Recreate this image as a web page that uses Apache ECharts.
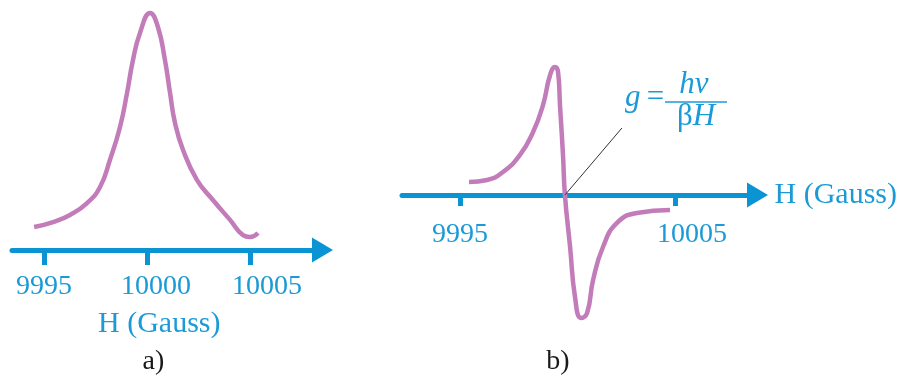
<!DOCTYPE html>
<html><head><meta charset="utf-8">
<script src="https://cdn.jsdelivr.net/npm/echarts@6/dist/echarts.min.js"></script>
<style>html,body{margin:0;padding:0;background:#fff}#c{width:901px;height:379px}</style>
</head><body><div id="c"></div>
<script>
// Panel a) absorption line: field H (Gauss) and intensity (arb. units)
const fieldA = [9994.52, 9995.44, 9996.26, 9997.09, 9997.72, 9998.20, 9998.69, 9999.03, 9999.32, 9999.66, 10000.15, 10000.53, 10000.87, 10001.12, 10001.36, 10001.75, 10002.43, 10003.20, 10004.03, 10004.66, 10005.00, 10005.39];
const intensityA = [9.7, 11.8, 14.8, 19.8, 26.6, 38.0, 51.9, 66.2, 80.2, 91.6, 100, 94.1, 80.2, 66.2, 53.6, 42.2, 29.5, 21.1, 12.7, 6.3, 5.5, 7.2];
// Panel b) first-derivative signal
const fieldB = [9995.42, 9996.26, 9997.00, 9997.79, 9998.40, 9998.86, 9999.19, 9999.42, 9999.56, 9999.65, 9999.79, 9999.88, 10000.12, 10000.35, 10000.63, 10000.91, 10001.19, 10001.65, 10002.30, 10003.23, 10004.77];
const derivB = [10, 11.5, 17.7, 30.8, 48.5, 69.2, 92.3, 98.5, 94.6, 69.2, 30.8, 0, -40, -78.5, -94.6, -90.8, -65.4, -40, -21.5, -13.8, -11.5];
const ticksA = [9995, 10000, 10005];
const ticksB = [9995, 10005];
const axisName = 'H (Gauss)';
const panelLabels = ['a)', 'b)'];
const formulaNum = 'hν';
const formulaDen = ['β', 'H'];
// leader line from zero crossing to the formula
const leaderFrom = [9999.88, 0];
const leaderTo = [10002.53, 51.5];

const BLUE = '#0a94d4';
const TXT = '#1b9ad6';
const CURVE = '#c27cb9';
const SERIF = '"Liberation Serif", "Times New Roman", serif';
const labelShift = {10000: 'm', 10005: 'r'};

function axisCfg(grid, min, max, ticks, tickLen, labelMargin, nameOpt) {
  return Object.assign({
    gridIndex: grid, type: 'value', min: min, max: max,
    splitLine: {show: false},
    axisLine: {show: true, onZero: false, lineStyle: {color: BLUE, width: 5}, symbol: ['none', 'triangle'], symbolSize: [25, 21]},
    axisTick: {show: true, customValues: ticks, length: tickLen, lineStyle: {color: BLUE, width: 5}},
    axisLabel: {
      customValues: ticks, margin: labelMargin, color: TXT, fontFamily: SERIF, fontSize: 28,
      formatter: function (v) { const k = labelShift[v]; return k ? '{' + k + '|' + v + '}' : String(v); },
      rich: {m: {padding: [0, 0, 0, 18]}, r: {padding: [0, 0, 0, 34]}}
    },
    name: axisName,
    nameTextStyle: {color: TXT, fontFamily: SERIF, fontSize: 30}
  }, nameOpt);
}

// grid 1 spans y 65..325; its x axis sits at the zero level (y = 195), 130 px above the grid bottom
const xB = axisCfg(1, 9992.302, 10008.837, ticksB, 11, 26, {nameLocation: 'end', nameGap: 17, offset: -130});

const option = {
  animation: false,
  backgroundColor: '#fff',
  grid: [
    {left: 12, width: 310.5, top: 13, bottom: 129},
    {left: 402, width: 355.5, top: 65, bottom: 54}
  ],
  xAxis: [
    axisCfg(0, 9993.447, 10008.519, ticksA, 15, 23, {nameLocation: 'middle', nameGap: 59, nameTextStyle: {color: TXT, fontFamily: SERIF, fontSize: 30, padding: [0, 16, 0, 0]}}),
    xB
  ],
  yAxis: [
    {gridIndex: 0, type: 'value', min: 0, max: 100, show: false},
    {gridIndex: 1, type: 'value', min: -100, max: 100, show: false}
  ],
  series: [
    {type: 'line', xAxisIndex: 0, yAxisIndex: 0, data: fieldA.map((h, i) => [h, intensityA[i]]),
      showSymbol: false, smooth: 0.5, clip: false, lineStyle: {color: CURVE, width: 4.5}, silent: true},
    {type: 'line', xAxisIndex: 1, yAxisIndex: 1, data: fieldB.map((h, i) => [h, derivB[i]]),
      showSymbol: false, smooth: 0.5, clip: false, lineStyle: {color: CURVE, width: 4.5}, silent: true,
      markLine: {silent: true, symbol: ['none', 'none'], label: {show: false},
        lineStyle: {color: '#333', width: 1, type: 'solid'},
        data: [[{coord: leaderFrom}, {coord: leaderTo}]]}}
  ],
  graphic: [
    {type: 'text', x: 153.5, y: 362, style: {text: panelLabels[0], fontFamily: SERIF, fontSize: 28, fill: '#1a1a1a', align: 'center', verticalAlign: 'middle'}},
    {type: 'text', x: 558, y: 362, style: {text: panelLabels[1], fontFamily: SERIF, fontSize: 28, fill: '#1a1a1a', align: 'center', verticalAlign: 'middle'}},
    {type: 'text', x: 625, y: 97.5, style: {text: 'g', fontFamily: SERIF, fontSize: 31, fontStyle: 'italic', fill: TXT, align: 'left', verticalAlign: 'middle'}},
    {type: 'text', x: 655.5, y: 97.5, style: {text: '=', fontFamily: SERIF, fontSize: 31, fill: TXT, align: 'center', verticalAlign: 'middle'}},
    {type: 'line', shape: {x1: 665, y1: 102, x2: 727, y2: 102}, style: {stroke: TXT, lineWidth: 1.5}},
    {type: 'text', x: 694, y: 84.5, style: {text: formulaNum, fontFamily: SERIF, fontSize: 31, fontStyle: 'italic', fill: TXT, align: 'center', verticalAlign: 'middle'}},
    {type: 'text', x: 696, y: 116.5, style: {text: '{b|' + formulaDen[0] + '}{h|' + formulaDen[1] + '}', fontFamily: SERIF, fontSize: 31, fill: TXT, align: 'center', verticalAlign: 'middle',
      rich: {b: {fontFamily: SERIF, fontSize: 31, fill: TXT}, h: {fontFamily: SERIF, fontSize: 31, fontStyle: 'italic', fill: TXT}}}}
  ]
};
const chart = echarts.init(document.getElementById('c'), null, {renderer: 'canvas'});
chart.setOption(option);
</script>
</body></html>
